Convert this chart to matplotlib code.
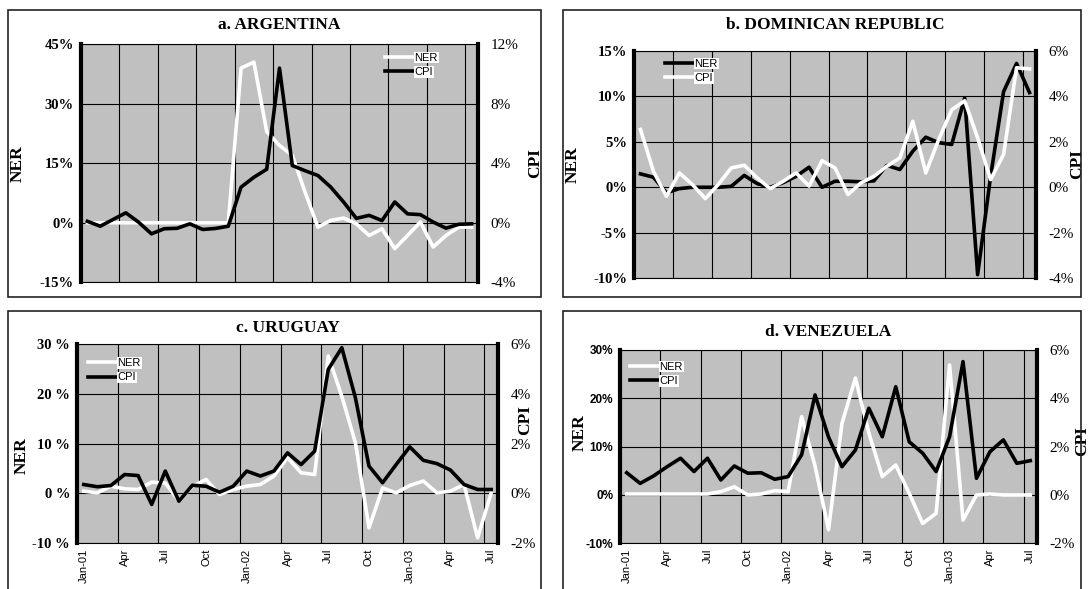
import matplotlib.pyplot as plt
from matplotlib.patches import Rectangle

plt.rcParams['font.family'] = 'Liberation Serif'

# monthly data, Jan-01 .. Jul-03
month_labels = ['Jan-01', 'Apr', 'Jul', 'Oct', 'Jan-02', 'Apr', 'Jul', 'Oct', 'Jan-03', 'Apr', 'Jul']

arg_ner = [0, 0, 0, 0, 0, 0, 0, 0, 0, 0, 0, 0, 39, 40.5, 23, 19.5, 17, 7.7, -1.1, 0.6,
           1.2, -0.25, -3.2, -1.5, -6.5, -3.2, 0.2, -6.1, -3.2, -1.1, -1.1]
arg_cpi = [0.1, -0.23, 0.22, 0.67, 0.04, -0.74, -0.4, -0.37, -0.07, -0.45, -0.38, -0.23, 2.4, 3.06,
           3.6, 10.4, 3.85, 3.5, 3.18, 2.4, 1.4, 0.3, 0.5, 0.15, 1.4, 0.6, 0.55, 0.05, -0.36, -0.1, -0.07]

dom_ner = [1.47, 1.1, -0.6, -0.15, 0, 0, 0, 0.1, 1.3, 0.4, 0, 0.5, 1.2, 2.2, 0, 0.66, 0.66, 0.6,
           0.7, 2.4, 1.95, 3.96, 5.5, 4.9, 4.7, 9.8, -9.6, 1.2, 10.5, 13.6, 10.4]
dom_cpi = [2.54, 0.7, -0.4, 0.63, 0.12, -0.5, 0.12, 0.85, 0.97, 0.41, -0.06, 0.26, 0.63, 0.05, 1.17,
           0.85, -0.32, 0.19, 0.48, 0.92, 1.29, 2.9, 0.63, 2.1, 3.4, 3.8, 2.17, 0.34, 1.44, 5.25, 5.2]

uru_ner = [0.46, 0.13, 1.47, 0.94, 0.8, 2.27, 2.1, -1.5, 1.47, 2.8, -0.2, 0.8, 1.47, 1.8, 3.5, 7.2,
           4.15, 3.8, 27.6, 19.5, 10.2, -6.9, 1.1, 0.13, 1.6, 2.5, 0.13, 0.46, 1.8, -8.9, 0.13]
uru_cpi = [0.36, 0.27, 0.32, 0.76, 0.72, -0.44, 0.9, -0.31, 0.33, 0.29, 0.05, 0.29, 0.9, 0.7, 0.9,
           1.63, 1.16, 1.7, 4.98, 5.85, 3.84, 1.1, 0.43, 1.16, 1.87, 1.33, 1.2, 0.94, 0.36, 0.16, 0.16]

ven_ner = [0.2, 0.2, 0.2, 0.2, 0.2, 0.2, 0.2, 0.7, 1.7, 0, 0.2, 0.9, 0.7, 16.2, 6, -7.2, 14.8, 24.2,
           12.8, 3.8, 6.2, 0.35, -5.9, -3.8, 26.9, -5.2, 0, 0.2, 0, 0, 0]
ven_cpi = [0.92, 0.48, 0.79, 1.17, 1.52, 0.97, 1.52, 0.62, 1.2, 0.9, 0.92, 0.65, 0.76, 1.66, 4.14,
           2.4, 1.17, 1.86, 3.59, 2.41, 4.48, 2.2, 1.73, 0.97, 2.41, 5.52, 0.69, 1.79, 2.28, 1.31, 1.42]

W, H = 1089, 589
fig = plt.figure(figsize=(W / 100, H / 100), dpi=100)

def px_rect(x0, y0, x1, y1):
    return [x0 / W, 1 - y1 / H, (x1 - x0) / W, (y1 - y0) / H]

# outer frames
for x0, y0, x1, y1 in [(8, 10, 541, 297), (563, 10, 1081, 297), (8, 311, 541, 620), (563, 311, 1081, 620)]:
    r = px_rect(x0, y0, x1, y1)
    fig.add_artist(Rectangle((r[0], r[1]), r[2], r[3], transform=fig.transFigure,
                             fill=False, ec='#222222', lw=1.2))

panels = [
    dict(rect=(81, 44.3, 478, 282.3), title='a. ARGENTINA', title_y=25, ner=arg_ner, cpi=arg_cpi,
         ner_lim=(-15, 45), ner_ticks=[-15, 0, 15, 30, 45], cpi_lim=(-4, 12), cpi_ticks=[-4, 0, 4, 8, 12],
         ner_color='white', cpi_color='black', leg=(0.766, 0.965), xlabels=False, pct='%d%%',
         ner_lab=(-0.139, 0.5), cpi_lab=(1.123, 0.5), left_font=('Liberation Serif', 10.5)),
    dict(rect=(634, 50.7, 1036, 278.3), title='b. DOMINICAN REPUBLIC', title_y=25, ner=dom_ner, cpi=dom_cpi,
         ner_lim=(-10, 15), ner_ticks=[-10, -5, 0, 5, 10, 15], cpi_lim=(-4, 6), cpi_ticks=[-4, -2, 0, 2, 4, 6],
         ner_color='black', cpi_color='white', leg=(0.077, 0.965), xlabels=False, pct='%d%%',
         ner_lab=(-0.132, 0.5), cpi_lab=(1.082, 0.5), left_font=('Liberation Serif', 10.5)),
    dict(rect=(77, 344, 498, 543.3), title='c. URUGUAY', title_y=328, ner=uru_ner, cpi=uru_cpi,
         ner_lim=(-10, 30), ner_ticks=[-10, 0, 10, 20, 30], cpi_lim=(-2, 6), cpi_ticks=[-2, 0, 2, 4, 6],
         ner_color='white', cpi_color='black', leg=(0.026, 0.93), xlabels=True, pct='%d %%',
         ner_lab=(-0.112, 0.44), cpi_lab=(1.045, 0.62), left_font=('Liberation Serif', 10.5)),
    dict(rect=(620, 350, 1037, 543.3), title='d. VENEZUELA', title_y=332, ner=ven_ner, cpi=ven_cpi,
         ner_lim=(-10, 30), ner_ticks=[-10, 0, 10, 20, 30], cpi_lim=(-2, 6), cpi_ticks=[-2, 0, 2, 4, 6],
         ner_color='white', cpi_color='black', leg=(0.024, 0.94), xlabels=True, pct='%d%%',
         ner_lab=(-0.077, 0.57), cpi_lab=(1.09, 0.53), left_font=('Liberation Sans', 8.5)),
]

x = [i + 0.5 for i in range(len(arg_ner))]

for p in panels:
    x0, y0, x1, y1 = p['rect']
    ax = fig.add_axes(px_rect(x0, y0, x1, y1))
    ax.set_facecolor('#c0c0c0')
    ax2 = ax.twinx()

    l1, = ax.plot(x, p['ner'], color=p['ner_color'], lw=2.6, solid_joinstyle='round', label='NER')
    l2, = ax2.plot(x, p['cpi'], color=p['cpi_color'], lw=2.6, solid_joinstyle='round', label='CPI')

    ax.set_xlim(0, 31)
    ax.set_ylim(*p['ner_lim'])
    ax2.set_ylim(*p['cpi_lim'])

    ax.set_xticks(range(0, 31, 3))
    ax.set_xticklabels([])
    ax.set_xticks([i + 0.5 for i in range(0, 31, 3)], minor=True)
    if p['xlabels']:
        ax.set_xticklabels(month_labels, minor=True, rotation=90, family='Liberation Sans', fontsize=8)
    ax.tick_params(axis='x', which='both', length=0, pad=4)

    ax.set_yticks(p['ner_ticks'])
    fam, sz = p['left_font']
    ax.set_yticklabels([p['pct'] % v for v in p['ner_ticks']], family=fam, fontsize=sz, fontweight='bold')
    ax.tick_params(axis='y', length=0, pad=5)
    ax2.set_yticks(p['cpi_ticks'])
    ax2.set_yticklabels(['%d%%' % v for v in p['cpi_ticks']], fontsize=11)
    ax2.tick_params(axis='y', length=0, pad=9)

    ax.grid(True, which='major', color='black', lw=0.8)
    ax.set_axisbelow(True)

    for s in ['top', 'bottom']:
        ax.spines[s].set_linewidth(0.8)
        ax2.spines[s].set_visible(False)
    ax.spines['right'].set_visible(False)
    ax2.spines['left'].set_visible(False)
    ax.spines['left'].set_linewidth(3)
    ax2.spines['right'].set_linewidth(3)

    ax.set_ylabel('NER', fontsize=12.5, fontweight='bold')
    ax.yaxis.set_label_coords(*p['ner_lab'])
    ax2.set_ylabel('CPI', fontsize=12.5, fontweight='bold')
    ax2.yaxis.set_label_coords(*p['cpi_lab'])

    fig.text((x0 + x1) / 2 / W, 1 - p['title_y'] / H, p['title'], ha='center', va='center',
             fontsize=12.5, fontweight='bold')

    leg = ax2.legend([l1, l2], ['NER', 'CPI'], loc='upper left', bbox_to_anchor=p['leg'],
                     frameon=False, prop={'family': 'Liberation Sans', 'size': 8},
                     handlelength=2.6, handletextpad=0.05, labelspacing=0.4, borderaxespad=0,
                     borderpad=0)
    for t in leg.get_texts():
        t.set_bbox(dict(facecolor='white', edgecolor='none', pad=0.6))

fig.savefig('out.png', dpi=100)
